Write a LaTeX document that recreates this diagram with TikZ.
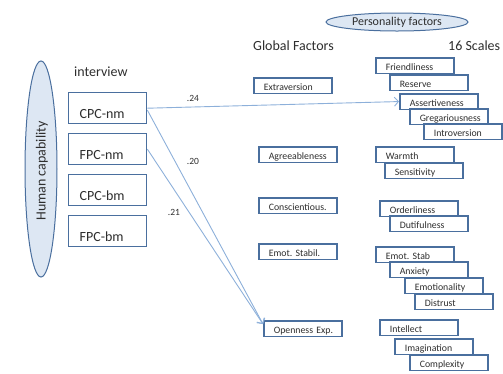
\documentclass[tikz,border=0pt]{standalone}
\usepackage{fontspec}
\setmainfont{Carlito}
\frenchspacing
\usetikzlibrary{arrows.meta,shapes.geometric}
\definecolor{boxc}{HTML}{4A6F9E}
\definecolor{linec}{HTML}{8DB0DA}
\definecolor{ellfill}{HTML}{DDE7F3}
\definecolor{txtc}{HTML}{2E2E2E}
\tikzset{
  bigbox/.style={draw=boxc, fill=white, line width=1.4pt, anchor=north west,
    inner xsep=11pt, inner ysep=0pt, text width=56pt, align=left,
    text height=26pt, text depth=5pt, font=\fontsize{14}{16}\selectfont, text=txtc},
  sbox/.style={draw=boxc, fill=white, line width=1.6pt, anchor=north west,
    inner xsep=10pt, inner ysep=0pt, text width=58pt, align=left,
    text height=13pt, text depth=2.5pt, font=\fontsize{9.8}{11}\selectfont, text=txtc},
  ell/.style={ellipse, draw=boxc, fill=ellfill, line width=1pt, inner sep=0pt},
  head/.style={anchor=base west, font=\fontsize{14}{16}\selectfont, text=txtc, inner sep=0pt},
  num/.style={font=\fontsize{9.5}{11}\selectfont, text=txtc, inner sep=0pt},
  conn/.style={draw=linec, line width=0.9pt, -{Straight Barb[length=4pt,width=9pt]}}
}
\begin{document}
\begin{tikzpicture}[x=1pt,y=-1pt]
\useasboundingbox (0,0) rectangle (503,373);
% ellipses
\node[ell, minimum width=32pt, minimum height=216pt] (human) at (41,169) {};
\node[rotate=90, font=\fontsize{14}{16}\selectfont, text=txtc, inner sep=0pt] (humant) at (42,171) {Human capability};
\node[ell, minimum width=142pt, minimum height=18pt, font=\fontsize{12}{14}\selectfont, text=txtc] (pers) at (397,22) {Personality factors};
% headings
\node[head] (interview) at (74,76) {interview};
\node[head] (global) at (253,50) {Global Factors};
\node[head] (scales) at (448,50) {16 Scales};
% big boxes
\node[bigbox] (cpcnm) at (68,92) {CPC-nm};
\node[bigbox] (fpcnm) at (68,133) {FPC-nm};
\node[bigbox] (cpcbm) at (68,174) {CPC-bm};
\node[bigbox] (fpcbm) at (68,215) {FPC-bm};
% global factors
\node[sbox] (extra) at (253,77) {Extraversion};
\node[sbox] (agree) at (258,146) {Agreeableness};
\node[sbox] (consc) at (258,197) {Conscientious.};
\node[sbox] (emots) at (258,243) {Emot.~Stabil.};
\node[sbox] (open) at (263,320) {Openness~Exp.};
% scales
\node[sbox] (friend) at (375,57) {Friendliness};
\node[sbox] (reserve) at (389,74) {Reserve};
\node[sbox] (assert) at (399,93) {Assertiveness};
\node[sbox] (greg) at (409,108) {Gregariousness};
\node[sbox] (intro) at (423,123) {Introversion};
\node[sbox] (warmth) at (375,146) {Warmth};
\node[sbox] (sensit) at (384,162) {Sensitivity};
\node[sbox] (order) at (379,200) {Orderliness};
\node[sbox] (dutiful) at (389,215) {Dutifulness};
\node[sbox] (emstab) at (375,246) {Emot.~Stab};
\node[sbox] (anxiety) at (389,261) {Anxiety};
\node[sbox] (emotion) at (404,277) {Emotionality};
\node[sbox] (distrust) at (414,293) {Distrust};
\node[sbox] (intell) at (379,319) {Intellect};
\node[sbox] (imag) at (394,338) {Imagination};
\node[sbox] (complex) at (409,354) {Complexity};
% connectors
\draw[conn] (cpcnm.east) -- (assert.west);
\draw[conn] ([yshift=-2pt]cpcnm.east) -- ([yshift=4.5pt]open.west);
\draw[conn] (fpcnm.east) -- ([yshift=4.5pt]open.west);
% numbers
\node[num] (n24) at (193,98) {.24};
\node[num] (n20) at (193,161) {.20};
\node[num] (n21) at (174,212) {.21};
\end{tikzpicture}
\end{document}
